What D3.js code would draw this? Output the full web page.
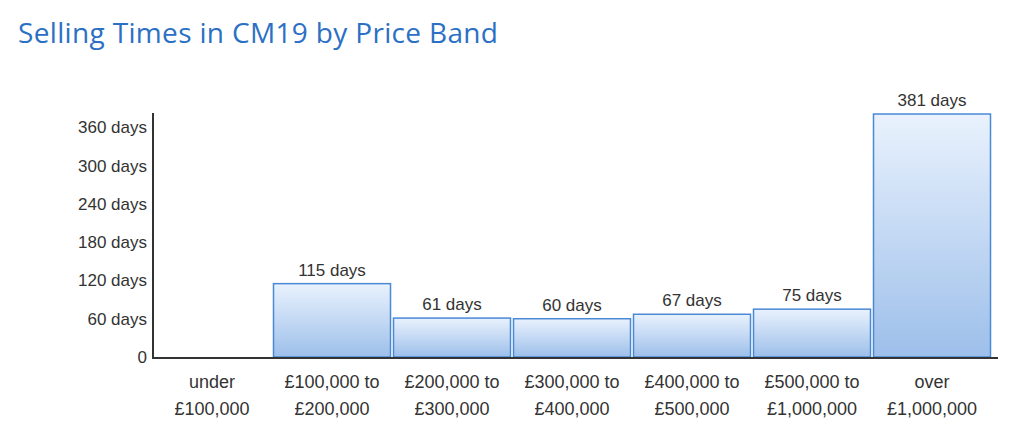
<!DOCTYPE html>
<html>
<head>
<meta charset="utf-8">
<script src="https://cdn.jsdelivr.net/npm/d3@7"></script>
<style>
  body { margin: 0; background: #fff; }
  .title { font-family: "Open Sans", sans-serif; font-size: 28px; fill: #2b70c4; }
  .lbl { font-family: "Liberation Sans", Arial, sans-serif; font-size: 17px; fill: #333; }
  .xlbl { font-size: 18px; }
</style>
</head>
<body>
<div id="chart"></div>
<script>
// Price bands, two label lines each
var bandLine1 = ['under', '£100,000 to', '£200,000 to', '£300,000 to', '£400,000 to', '£500,000 to', 'over'];
var bandLine2 = ['£100,000', '£200,000', '£300,000', '£400,000', '£500,000', '£1,000,000', '£1,000,000'];
// Average days to sell (no data for the lowest band)
var sellingDays = [0, 115, 61, 60, 67, 75, 381];
var yTicks = [0, 60, 120, 180, 240, 300, 360];

var WIDTH = 1024, HEIGHT = 426;
var LEFT = 153, RIGHT = 993, TOP = 114, BOTTOM = 357;

var svg = d3.select('#chart').append('svg')
  .attr('width', WIDTH)
  .attr('height', HEIGHT);

// Gradient for bars
var grad = svg.append('defs').append('linearGradient')
  .attr('id', 'barGrad')
  .attr('x1', 0).attr('y1', 0).attr('x2', 0).attr('y2', 1);
grad.append('stop').attr('offset', '0%').attr('stop-color', '#e9f2fd');
grad.append('stop').attr('offset', '100%').attr('stop-color', '#9dbfea');

svg.append('text')
  .attr('class', 'title')
  .attr('x', 18)
  .attr('y', 43)
  .attr('textLength', 480)
  .attr('lengthAdjust', 'spacing')
  .text('Selling Times in CM19 by Price Band');

var x = d3.scaleBand()
  .domain(d3.range(sellingDays.length))
  .range([LEFT, RIGHT]);

var y = d3.scaleLinear()
  .domain([0, d3.max(sellingDays)])
  .range([BOTTOM, TOP]);

// Bars (skip empty band)
var bars = svg.append('g');
sellingDays.forEach(function(v, i) {
  if (!v) return;
  bars.append('rect')
    .attr('x', x(i) + 0.5)
    .attr('y', y(v))
    .attr('width', x.bandwidth() - 3)
    .attr('height', BOTTOM - y(v))
    .attr('fill', 'url(#barGrad)')
    .attr('stroke', '#4a89d6')
    .attr('stroke-width', 1.5);
  bars.append('text')
    .attr('class', 'lbl')
    .attr('x', x(i) + x.bandwidth() / 2 - 1)
    .attr('y', y(v) - 8)
    .attr('text-anchor', 'middle')
    .text(v + ' days');
});

// Y axis labels
svg.append('g').selectAll('text')
  .data(yTicks)
  .enter().append('text')
  .attr('class', 'lbl')
  .attr('x', 147)
  .attr('y', function(d) { return y(d) + 6; })
  .attr('text-anchor', 'end')
  .text(function(d) { return d === 0 ? '0' : d + ' days'; });

// X labels
var xl = svg.append('g');
bandLine1.forEach(function(t, i) {
  var cx = x(i) + x.bandwidth() / 2 - 1;
  xl.append('text').attr('class', 'lbl xlbl')
    .attr('x', cx).attr('y', 388)
    .attr('text-anchor', 'middle').text(t);
  xl.append('text').attr('class', 'lbl xlbl')
    .attr('x', cx).attr('y', 415)
    .attr('text-anchor', 'middle').text(bandLine2[i]);
});

// Axis lines
svg.append('line')
  .attr('x1', LEFT).attr('x2', LEFT)
  .attr('y1', TOP - 1).attr('y2', BOTTOM + 1)
  .attr('stroke', '#333').attr('stroke-width', 2);
svg.append('line')
  .attr('x1', LEFT - 1).attr('x2', 998)
  .attr('y1', BOTTOM + 1).attr('y2', BOTTOM + 1)
  .attr('stroke', '#333').attr('stroke-width', 2);
</script>
</body>
</html>
